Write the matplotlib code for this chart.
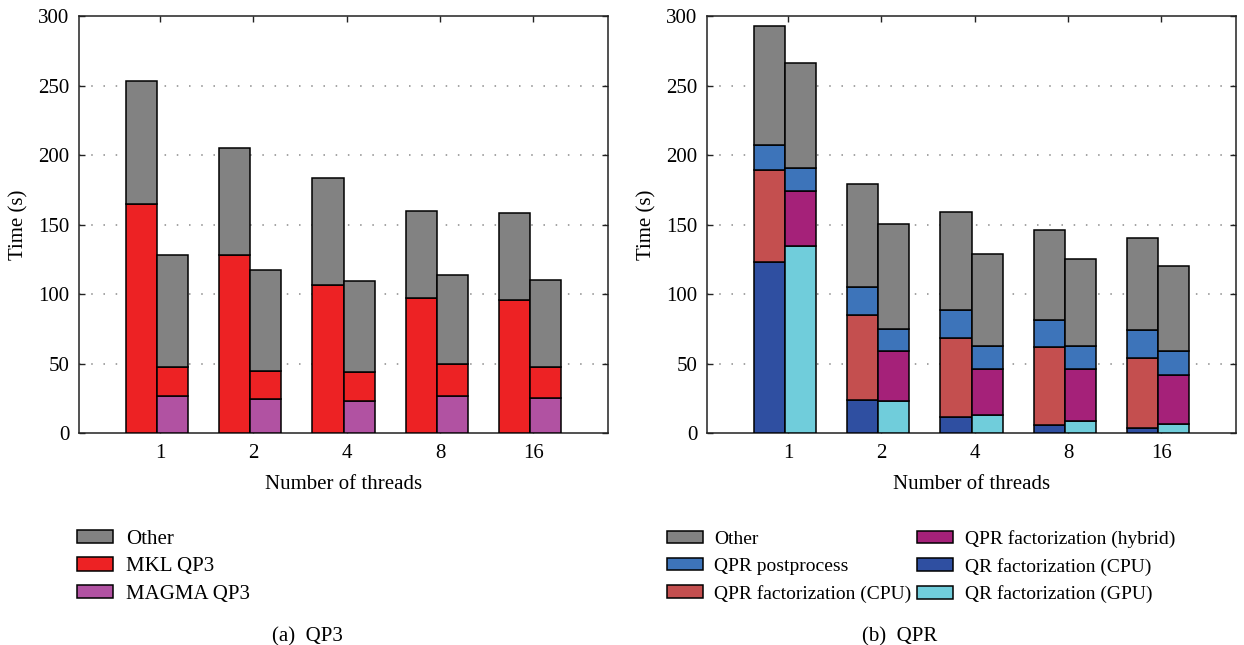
import matplotlib
matplotlib.use("Agg")
import matplotlib.pyplot as plt
from matplotlib.patches import Patch
import numpy as np

# ---------------- data ----------------
threads = ["1", "2", "4", "8", "16"]

# (a) QP3 -- first bar: MKL, second bar: MAGMA
qp3_mkl_mkl = [165, 128, 106.5, 97, 95.5]
qp3_mkl_other = [88.5, 77, 77, 62.5, 63]
qp3_magma_magma = [26.5, 24.5, 23.5, 26.5, 25.5]
qp3_magma_mkl = [21, 20.5, 20.5, 23.5, 22]
qp3_magma_other = [80.5, 72.5, 65.5, 63.5, 63]

# (b) QPR -- first bar: CPU, second bar: GPU/hybrid
qpr_cpu_qr = [123, 24, 12, 6, 3.5]
qpr_cpu_qpr = [66, 61, 56.5, 56, 50.5]
qpr_cpu_post = [18.5, 20, 20, 19.5, 20]
qpr_cpu_other = [85, 74.5, 70.5, 65, 66.5]
qpr_gpu_qr = [135, 23.5, 13, 9, 6.5]
qpr_gpu_hybrid = [39, 35.5, 33.5, 37.5, 35.5]
qpr_gpu_post = [17, 16, 16.5, 16.5, 17]
qpr_gpu_other = [75.5, 75.5, 66, 62.5, 61.5]

# ---------------- style ----------------
C_OTHER = "#828282"
C_MKL = "#ED2224"
C_MAGMA = "#B152A2"
C_POST = "#3D74BA"
C_QPRCPU = "#C44F4F"
C_HYBRID = "#A52179"
C_QRCPU = "#2F4FA1"
C_QRGPU = "#70CDDB"

plt.rcParams["font.family"] = ["Liberation Serif", "DejaVu Serif"]
FS = 15
EDGE = dict(edgecolor="black", linewidth=1.1)

W, H = 1244, 645
fig = plt.figure(figsize=(W / 100, H / 100), dpi=100)


def px_axes(x0, x1, ytop, ybot):
    return fig.add_axes([x0 / W, 1 - ybot / H, (x1 - x0) / W, (ybot - ytop) / H])


ax1 = px_axes(79, 608, 16, 433.3)
ax2 = px_axes(707, 1236, 16, 433.3)

x = np.arange(1, len(threads) + 1)
bw = 0.333
off = 0.035


def stack(ax, xpos, segs, colors):
    bottom = np.zeros(len(xpos))
    for vals, c in zip(segs, colors):
        vals = np.asarray(vals, dtype=float)
        ax.bar(xpos, vals, bw, bottom=bottom, color=c, align="edge", zorder=3, **EDGE)
        bottom += vals


stack(ax1, x - off - bw, [qp3_mkl_mkl, qp3_mkl_other], [C_MKL, C_OTHER])
stack(ax1, x - off, [qp3_magma_magma, qp3_magma_mkl, qp3_magma_other],
      [C_MAGMA, C_MKL, C_OTHER])

stack(ax2, x - off - bw, [qpr_cpu_qr, qpr_cpu_qpr, qpr_cpu_post, qpr_cpu_other],
      [C_QRCPU, C_QPRCPU, C_POST, C_OTHER])
stack(ax2, x - off, [qpr_gpu_qr, qpr_gpu_hybrid, qpr_gpu_post, qpr_gpu_other],
      [C_QRGPU, C_HYBRID, C_POST, C_OTHER])

for ax in (ax1, ax2):
    ax.set_xlim(0.13, 5.80)
    ax.set_ylim(0, 300)
    ax.set_xticks(x)
    ax.set_xticklabels(threads)
    ax.set_yticks(np.arange(0, 301, 50))
    ax.tick_params(direction="in", top=True, right=True, length=4.5, width=1.0,
                   labelsize=FS, pad=7, color="#222222")
    ax.tick_params(axis="x", pad=8)
    for s in ax.spines.values():
        s.set_linewidth(1.1)
        s.set_color("#222222")
    for yv in range(50, 300, 50):
        ax.axhline(yv, color="#8a8a8a", linewidth=1.1, linestyle=(0, (1, 7)), zorder=1)
    ax.set_xlabel("Number of threads", fontsize=FS, labelpad=8)
    ax.set_ylabel("Time (s)", fontsize=FS)
    ax.yaxis.set_label_coords(-0.095, 0.5)

# legends
h1 = [Patch(facecolor=c, **EDGE) for c in (C_OTHER, C_MKL, C_MAGMA)]
fig.legend(h1, ["Other", "MKL QP3", "MAGMA QP3"], loc="upper left",
           bbox_to_anchor=(77 / W, 1 - 530 / H), frameon=False, fontsize=FS,
           handlelength=1.75, handleheight=0.6, handletextpad=0.6,
           labelspacing=0.4, borderpad=0, borderaxespad=0)

FS2 = 14
h2 = [Patch(facecolor=c, **EDGE) for c in
      (C_OTHER, C_POST, C_QPRCPU, C_HYBRID, C_QRCPU, C_QRGPU)]
labels2 = ["Other", "QPR postprocess", "QPR factorization (CPU)",
           "QPR factorization (hybrid)", "QR factorization (CPU)", "QR factorization (GPU)"]
fig.legend(h2, labels2, loc="upper left", ncol=2,
           bbox_to_anchor=(667 / W, 1 - 530 / H), frameon=False, fontsize=FS2,
           handlelength=1.85, handleheight=0.64, handletextpad=0.58,
           labelspacing=0.5, columnspacing=0.3, borderpad=0, borderaxespad=0)

fig.text(307 / W, 1 - 637 / H, "(a)  QP3", ha="center", va="center", fontsize=FS)
fig.text(900 / W, 1 - 637 / H, "(b)  QPR", ha="center", va="center", fontsize=FS)

fig.savefig("out.png", dpi=100)
